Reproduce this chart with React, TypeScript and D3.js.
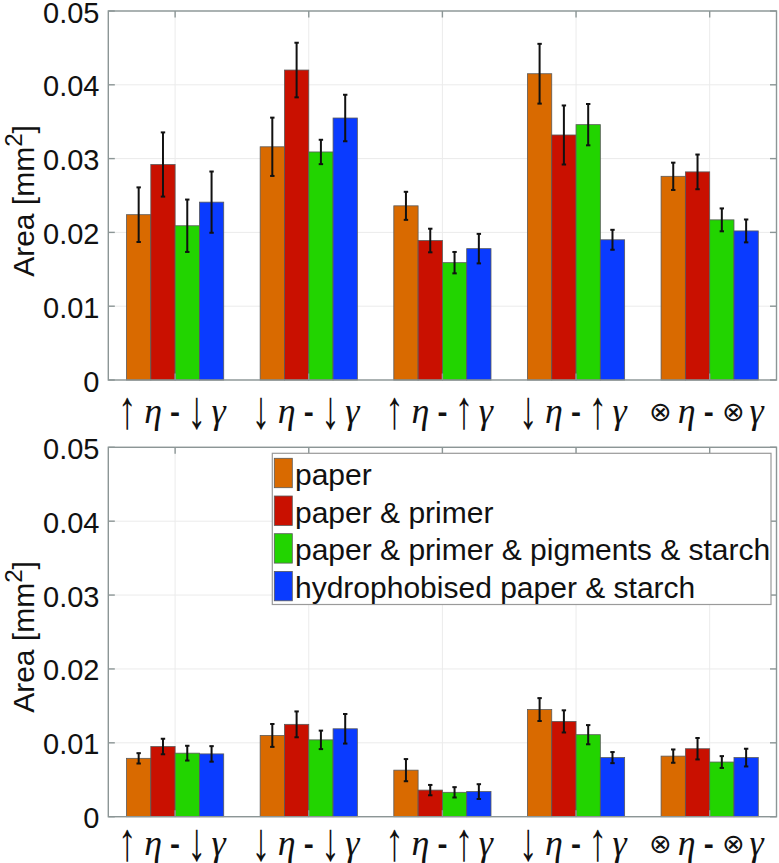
import React from "react";
import * as d3 from "d3";

// ---- data ----
const categories = [
  ["↑", "η", "↓", "γ"],
  ["↓", "η", "↓", "γ"],
  ["↑", "η", "↑", "γ"],
  ["↓", "η", "↑", "γ"],
  ["⊗", "η", "⊗", "γ"],
];
const seriesNames = [
  "paper",
  "paper & primer",
  "paper & primer & pigments & starch",
  "hydrophobised paper & starch",
];
const seriesColors = ["#D96A00", "#C91000", "#22D400", "#0A3BFF"];

// top panel: means and half error lengths per series
const topPaper = [0.0224, 0.0316, 0.0236, 0.0415, 0.0276];
const topPrimer = [0.0292, 0.042, 0.0189, 0.0332, 0.0282];
const topPigments = [0.0209, 0.0309, 0.0159, 0.0346, 0.0217];
const topHydro = [0.0241, 0.0355, 0.0178, 0.019, 0.0202];
const topPaperErr = [0.0037, 0.00395, 0.0019, 0.00405, 0.00185];
const topPrimerErr = [0.00435, 0.0037, 0.0016, 0.004, 0.00235];
const topPigmentsErr = [0.00355, 0.00165, 0.00145, 0.0028, 0.00155];
const topHydroErr = [0.00415, 0.00315, 0.002, 0.00135, 0.00155];

// bottom panel
const botPaper = [0.0079, 0.011, 0.0063, 0.0145, 0.0082];
const botPrimer = [0.0095, 0.0125, 0.0036, 0.0129, 0.0092];
const botPigments = [0.0086, 0.0104, 0.0033, 0.0111, 0.0074];
const botHydro = [0.0085, 0.0119, 0.0034, 0.008, 0.008];
const botPaperErr = [0.0007, 0.00155, 0.0015, 0.00155, 0.0009];
const botPrimerErr = [0.00105, 0.00175, 0.0007, 0.0015, 0.00145];
const botPigmentsErr = [0.001, 0.00125, 0.0007, 0.0013, 0.0008];
const botHydroErr = [0.00105, 0.002, 0.001, 0.00075, 0.0012];

const yTicks = [0, 0.01, 0.02, 0.03, 0.04, 0.05];
const yTickLabels = ["0", "0.01", "0.02", "0.03", "0.04", "0.05"];

const W = 779;
const H = 863;
const LEFT = 108.3;
const RIGHT = 776.5;
const AXIS_COLOR = "#8c9696";
const GRID_COLOR = "#ebebeb";
const SANS = "'Liberation Sans', Arial, Helvetica, sans-serif";
const ARROW_FONT = "'Liberation Serif', 'DejaVu Serif', serif";
const OTIMES_FONT = "'DejaVu Sans', 'DejaVu Serif', sans-serif";
const ITALIC = "'Liberation Serif', 'DejaVu Serif', serif";

type PanelProps = {
  top: number;
  bottom: number;
  values: number[][];
  errs: number[][];
  labelCenterY: number;
  labelOffset: number;
  showLegend: boolean;
};

function XLabel({ cx, base, parts }: { cx: number; base: number; parts: string[] }) {
  const isOt = parts[0] === "⊗";
  const offs = isOt ? [-49, -23, -1, 24, 47] : [-48, -22, 0, 21.5, 43.5];
  const sym = (ch: string, dx: number) =>
    isOt ? (
      <text x={cx + dx} y={base - 2} fontFamily={OTIMES_FONT} fontSize={27}>{ch}</text>
    ) : (
      <text
        transform={`translate(${cx + dx},${base + 5}) scale(1.1,1.6)`}
        fontFamily={ARROW_FONT}
        fontSize={34}
      >
        {ch}
      </text>
    );
  return (
    <g fill="#111" textAnchor="middle">
      {sym(parts[0], offs[0])}
      <text x={cx + offs[1]} y={base} fontFamily={ITALIC} fontStyle="italic" fontSize={36}>{parts[1]}</text>
      <text x={cx + offs[2]} y={base - 1} fontFamily={SANS} fontWeight="bold" fontSize={30}>-</text>
      {sym(parts[2], offs[3])}
      <text x={cx + offs[4]} y={base} fontFamily={ITALIC} fontStyle="italic" fontSize={36}>{parts[3]}</text>
    </g>
  );
}

function Panel({ top, bottom, values, errs, labelCenterY, labelOffset, showLegend }: PanelProps) {
  const x = d3.scaleLinear().domain([0.5, categories.length + 0.5]).range([LEFT, RIGHT]);
  const y = d3.scaleLinear().domain([0, 0.05]).range([bottom, top]);
  const step = x(2) - x(1);
  const nS = values.length;
  const groupW = Math.min(0.8, nS / (nS + 1.5)) * step;
  const barW = groupW / nS;
  const band = d3
    .scaleBand<number>()
    .domain(d3.range(nS))
    .range([-groupW / 2, groupW / 2])
    .padding(0);
  const tickLen = 6.5;
  const capW = 2.2;

  return (
    <g>
      {/* grid */}
      {yTicks.map((t) => (
        <line key={"gy" + t} x1={LEFT} x2={RIGHT} y1={y(t)} y2={y(t)} stroke={GRID_COLOR} strokeWidth={1} />
      ))}
      {categories.map((_, i) => (
        <line key={"gx" + i} x1={x(i + 1)} x2={x(i + 1)} y1={top} y2={bottom} stroke={GRID_COLOR} strokeWidth={1} />
      ))}
      {/* bars */}
      {values.map((series, s) =>
        series.map((v, i) => (
          <rect
            key={"b" + s + "-" + i}
            x={x(i + 1) + (band(s) as number)}
            y={y(v)}
            width={barW}
            height={y(0) - y(v)}
            fill={seriesColors[s]}
            stroke="#5a5a5a"
            strokeWidth={0.8}
          />
        ))
      )}
      {/* error bars */}
      {values.map((series, s) =>
        series.map((v, i) => {
          const cx = x(i + 1) + (band(s) as number) + barW / 2;
          const e = errs[s][i];
          return (
            <g key={"e" + s + "-" + i} stroke="#111" strokeWidth={2}>
              <line x1={cx} x2={cx} y1={y(v + e)} y2={y(v - e)} />
              <line x1={cx - capW} x2={cx + capW} y1={y(v + e)} y2={y(v + e)} />
              <line x1={cx - capW} x2={cx + capW} y1={y(v - e)} y2={y(v - e)} />
            </g>
          );
        })
      )}
      {/* axes box */}
      <rect x={LEFT} y={top} width={RIGHT - LEFT} height={bottom - top} fill="none" stroke={AXIS_COLOR} strokeWidth={1.4} />
      {yTicks.map((t) => (
        <g key={"ty" + t} stroke={AXIS_COLOR} strokeWidth={1.4}>
          <line x1={LEFT} x2={LEFT + tickLen} y1={y(t)} y2={y(t)} />
          <line x1={RIGHT} x2={RIGHT - tickLen} y1={y(t)} y2={y(t)} />
        </g>
      ))}
      {categories.map((_, i) => (
        <g key={"tx" + i} stroke={AXIS_COLOR} strokeWidth={1.4}>
          <line x1={x(i + 1)} x2={x(i + 1)} y1={bottom} y2={bottom - tickLen} />
          <line x1={x(i + 1)} x2={x(i + 1)} y1={top} y2={top + tickLen} />
        </g>
      ))}
      {/* y tick labels */}
      {yTicks.map((t, i) => (
        <text
          key={"yl" + t}
          x={99.5}
          y={y(t) + 11.5}
          textAnchor="end"
          fontFamily={SANS}
          fontSize={29}
          fill="#111"
        >
          {yTickLabels[i]}
        </text>
      ))}
      {/* x tick labels */}
      {categories.map((c, i) => (
        <XLabel key={"xl" + i} cx={x(i + 1)} base={bottom + labelOffset} parts={c} />
      ))}
      {/* y label */}
      <text
        transform={`translate(34,${labelCenterY}) rotate(-90)`}
        textAnchor="middle"
        fontFamily={SANS}
        fontSize={30}
        fill="#111"
      >
        Area [mm<tspan dy={-12} fontSize={24}>2</tspan><tspan dy={12}>]</tspan>
      </text>
      {showLegend && (
        <g>
          <rect x={272.3} y={453.3} width={498.7} height={151.2} fill="#fff" stroke="#9a9a9a" strokeWidth={1.2} />
          {seriesNames.map((name, s) => (
            <g key={"lg" + s}>
              <rect x={274.3} y={458.3 + s * 37.7} width={18} height={29.4} fill={seriesColors[s]} stroke="#5a5a5a" strokeWidth={0.8} />
              <text x={295} y={485 + s * 37.7} fontFamily={SANS} fontSize={30} fill="#111">
                {name}
              </text>
            </g>
          ))}
        </g>
      )}
    </g>
  );
}

export default function App() {
  const topValues = [topPaper, topPrimer, topPigments, topHydro];
  const topErrs = [topPaperErr, topPrimerErr, topPigmentsErr, topHydroErr];
  const botValues = [botPaper, botPrimer, botPigments, botHydro];
  const botErrs = [botPaperErr, botPrimerErr, botPigmentsErr, botHydroErr];
  return (
    <svg
      width={W}
      height={H}
      viewBox={`0 0 ${W} ${H}`}
      style={{ position: "absolute", left: 0, top: 0, background: "#fff" }}
    >
      <rect x={0} y={0} width={W} height={H} fill="#fff" />
      <Panel top={11} bottom={380} values={topValues} errs={topErrs} labelCenterY={201} labelOffset={43} showLegend={false} />
      <Panel top={447.3} bottom={816.7} values={botValues} errs={botErrs} labelCenterY={637} labelOffset={38.5} showLegend={true} />
    </svg>
  );
}
